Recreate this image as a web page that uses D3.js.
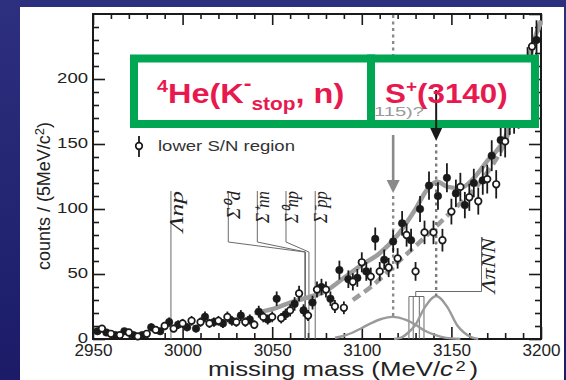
<!DOCTYPE html>
<html><head><meta charset="utf-8">
<script src="https://cdn.jsdelivr.net/npm/d3@7"></script>
<style>html,body{margin:0;padding:0;background:#1f206f;} svg{display:block}</style>
</head><body>
<svg id="chart" width="566" height="380"></svg>
<script>
// Higher S/N sample (filled circles): bin centre (MeV/c^2) and counts per 5 MeV/c^2
const filledMass = [2952.5,2957.5,2962.5,2967.5,2972.5,2977.5,2982.5,2987.5,2992.5,2997.5,
  3002.5,3007.5,3012.5,3017.5,3022.5,3027.5,3032.5,3037.5,3042.5,3047.5,
  3052.5,3057.5,3062.5,3067.5,3072.5,3077.5,3082.5,3087.5,3092.5,3097.5,
  3102.5,3107.5,3112.5,3117.5,3122.5,3127.5,3132.5,3137.5,3142.5,3147.5,
  3152.5,3157.5,3162.5,3167.5,3172.5,3177.5,3182.5,3187.5,3192.5,3197.5];
const filledCounts = [6,5,3,6,3,3,9,6,13,11,
  9,8,17,13,12,14,18,15,21,15,
  31,19,27,22,28,40,31,53,46,47,
  52,77,61,75,89,76,100,118,110,124,
  112,103,120,122,141,153,170,175,210,230];

// Lower S/N region (open circles)
const openMass = [2955,2960,2965,2970,2975,2980,2985,2990,2995,3000,
  3005,3010,3015,3020,3025,3030,3035,3040,3045,3050,
  3055,3060,3065,3070,3075,3080,3085,3090,3095,3100,
  3105,3110,3115,3120,3125,3130,3135,3140,3145,3150,
  3155,3160,3165,3170,3175,3180,3185,3190,3195];
const openCounts = [8,4,3,5,2,4,7,10,8,12,
  14,13,12,14,17,13,13,11,17,17,
  16,22,35,18,38,38,25,24,44,59,
  48,52,55,62,80,52,82,82,76,98,
  117,109,106,123,119,152,171,200,225];

// Fitted spectra (thick grey): solid for the filled set, dashed for the open set
const fitSolidMass   = [3040,3050,3060,3070,3080,3090,3100,3110,3120,3130,3137,3142,3148,3155,3162,3170,3180,3188,3195,3200];
const fitSolidCounts = [20,23,28,32,37,47,57,66,80,100,116,121,117,116,123,137,155,189,225,245];
const fitDashMass    = [3095,3105,3120,3135,3150,3160,3170,3180,3188,3195,3200];
const fitDashCounts  = [30,40,59,78,98,111,128,152,185,222,245];

// Peak components near the bottom
const peakAMass   = [3085,3090,3095,3100,3105,3110,3117,3125,3130,3135,3140,3145,3150,3155];
const peakACounts = [1,2.5,5,8.5,12,15,17,14.5,11,6.5,3.5,1.5,0.5,0];
const peakBMass   = [3118,3122,3126,3130,3135,3141.5,3148,3153,3157,3161,3165];
const peakBCounts = [0,1,5,11,24,33,24,11,5,1.5,0];

// Arrow positions for the two candidate states
const stateMass = [3117.5, 3141.5];

// Thresholds and their labels
const thrNames = ["Λnp","Σ⁰d","Σ⁺nn","Σ⁰np","Σ⁻pp"];
const thrMass  = [2993.5,3068.2,3068.6,3070.5,3074.0];
const thrLabelMass = [2993.5,3025.5,3041.7,3057.7,3074.0];
const lpnnMass = [3126.3,3128.7,3132.1,3134.7];

const xTickLabels = [2950,3000,3050,3100,3150,3200];
const yTickLabels = [0,50,100,150,200];
const xMinor = [2960,2970,2980,2990,3010,3020,3030,3040,3060,3070,3080,3090,3110,3120,3130,3140,3160,3170,3180,3190];
const yMinor = [10,20,30,40,60,70,80,90,110,120,130,140,160,170,180,190,210,220,230,240];

const svg = d3.select("#chart");
const W = 566, H = 380;
const x = d3.scaleLinear().domain([2950,3200]).range([93,541]);
const y = d3.scaleLinear().domain([0,250]).range([339,14]);

// slide background
const defs = svg.append("defs");
const g0 = defs.append("linearGradient").attr("id","bg").attr("x1",0).attr("y1",0).attr("x2",0).attr("y2",1);
g0.append("stop").attr("offset","0%").attr("stop-color","#2d307f");
g0.append("stop").attr("offset","100%").attr("stop-color","#1b1b68");
svg.append("rect").attr("width",W).attr("height",H).attr("fill","url(#bg)");
svg.append("rect").attr("x",20).attr("y",7).attr("width",544).attr("height",373).attr("fill","#fff");

const ink = "#1a1a1a";

// axes: ticks drawn inward on all four sides
function styleAxis(g){ g.select(".domain").remove(); g.selectAll("line").attr("stroke",ink).attr("stroke-width",1.6); }
svg.append("g").attr("transform","translate(0,339)")
  .call(d3.axisBottom(x).tickValues(xTickLabels).tickSize(-12).tickPadding(6).tickFormat(d3.format("d")))
  .call(styleAxis)
  .call(g=>g.selectAll("text").attr("font-family","Liberation Sans, Arial, sans-serif").attr("font-size",16).attr("fill","#222")
     .attr("textLength",38).attr("lengthAdjust","spacingAndGlyphs"));
svg.append("g").attr("transform","translate(0,339)")
  .call(d3.axisBottom(x).tickValues(xMinor).tickSize(-6).tickFormat("")).call(styleAxis);
svg.append("g").attr("transform","translate(0,14)")
  .call(d3.axisTop(x).tickValues(xTickLabels).tickSize(-11).tickFormat("")).call(styleAxis);
svg.append("g").attr("transform","translate(0,14)")
  .call(d3.axisTop(x).tickValues(xMinor).tickSize(-5).tickFormat("")).call(styleAxis);
svg.append("g").attr("transform","translate(93,0)")
  .call(d3.axisLeft(y).tickValues(yTickLabels).tickSize(-12).tickPadding(5).tickFormat(d3.format("d")))
  .call(styleAxis)
  .call(g=>g.selectAll("text").attr("font-family","Liberation Sans, Arial, sans-serif").attr("font-size",14).attr("fill","#222")
     .attr("dy","0.28em")
     .attr("textLength",d=>String(d).length*10.3).attr("lengthAdjust","spacingAndGlyphs"));
svg.append("g").attr("transform","translate(93,0)")
  .call(d3.axisLeft(y).tickValues(yMinor).tickSize(-6).tickFormat("")).call(styleAxis);
svg.append("g").attr("transform","translate(541,0)")
  .call(d3.axisRight(y).tickValues(yTickLabels.concat([250])).tickSize(-12).tickFormat("")).call(styleAxis);
svg.append("g").attr("transform","translate(541,0)")
  .call(d3.axisRight(y).tickValues(yMinor).tickSize(-6).tickFormat("")).call(styleAxis);

// frame
svg.append("rect").attr("x",x(2950)).attr("y",y(250)).attr("width",x(3200)-x(2950)).attr("height",y(0)-y(250))
  .attr("fill","none").attr("stroke",ink).attr("stroke-width",2);

// axis titles
const xt = svg.append("text").attr("x",208).attr("y",375.5)
  .attr("font-family","Liberation Sans, Arial, sans-serif").attr("font-size",21).attr("fill","#222")
  .attr("textLength",270).attr("lengthAdjust","spacingAndGlyphs");
xt.append("tspan").text("missing mass (MeV/");
xt.append("tspan").attr("font-style","italic").text("c");
xt.append("tspan").attr("font-size",15).attr("dy",-5).attr("dx",2).text("2");
xt.append("tspan").attr("dy",5).attr("dx",3).text(")");

const yt = svg.append("text").attr("transform","translate(50,196) rotate(-90)").attr("text-anchor","middle")
  .attr("font-family","Liberation Sans, Arial, sans-serif").attr("font-size",18).attr("fill","#222")
  .attr("textLength",148).attr("lengthAdjust","spacingAndGlyphs");
yt.append("tspan").text("counts / (5MeV/c");
yt.append("tspan").attr("font-size",13).attr("dy",-6).text("2");
yt.append("tspan").attr("dy",6).text(")");

// threshold markers
const thrG = svg.append("g").attr("stroke","#6a6a6a").attr("stroke-width",1).attr("fill","none");
thrMass.forEach((m,i)=>{
  const lx = x(thrLabelMass[i]), tx = x(m);
  const pts = Math.abs(lx-tx) < 0.5 ? [[tx,191],[tx,y(0)]] : [[lx,191],[lx,242],[tx,252],[tx,y(0)]];
  thrG.append("path").attr("d",d3.line()(pts));
});
thrNames.forEach((s,i)=>{
  const lx = x(thrLabelMass[i]);
  const t = svg.append("text").attr("transform",`translate(${lx+12},191) rotate(-90)`).attr("text-anchor","end")
    .attr("font-family","Liberation Serif, Times New Roman, serif").attr("font-style","italic").attr("font-size",19).attr("fill","#222");
  t.text(s);
  t.attr("textLength", s.length>=4 ? 32 : (i===0 ? 41 : 28)).attr("lengthAdjust","spacingAndGlyphs");
});
// Lambda-pi-N-N group
const lx0 = x(lpnnMass[0]), lx1 = x(lpnnMass[lpnnMass.length-1]);
lpnnMass.forEach(m=>thrG.append("line").attr("x1",x(m)).attr("x2",x(m)).attr("y1",296.5).attr("y2",y(0)));
thrG.append("path").attr("d",d3.line()([[lx0,296.5],[lx1,296.5]]));
const mid = x(lpnnMass[1])+2.5;
thrG.append("path").attr("d",d3.line()([[mid,296.5],[mid,291.5],[481.5,291.5],[481.5,237]]));
svg.append("text").attr("transform","translate(495,238) rotate(-90)").attr("text-anchor","end")
  .attr("font-family","Liberation Serif, Times New Roman, serif").attr("font-style","italic").attr("font-size",19).attr("fill","#222")
  .attr("textLength",55).attr("lengthAdjust","spacingAndGlyphs").text("ΛπNN");

// peak components
const line = d3.line().x(d=>x(d[0])).y(d=>y(d[1])).curve(d3.curveMonotoneX);
svg.append("path").attr("d",line(d3.zip(peakAMass,peakACounts))).attr("fill","none").attr("stroke","#9a9a9a").attr("stroke-width",2.4);
svg.append("path").attr("d",line(d3.zip(peakBMass,peakBCounts))).attr("fill","none").attr("stroke","#9a9a9a").attr("stroke-width",2.4);

// fitted spectra
svg.append("path").attr("d",line(d3.zip(fitSolidMass,fitSolidCounts))).attr("fill","none").attr("stroke","#9d9d9d").attr("stroke-width",4.5);
svg.append("path").attr("d",line(d3.zip(fitDashMass,fitDashCounts))).attr("fill","none").attr("stroke","#9d9d9d").attr("stroke-width",4.5)
  .attr("stroke-dasharray","9,5");

// dotted guides from the arrows down to the peak tops
const peakATop = d3.max(peakACounts), peakBTop = d3.max(peakBCounts);
svg.append("line").attr("x1",x(stateMass[0])).attr("x2",x(stateMass[0])).attr("y1",y(250)+1).attr("y2",55)
  .attr("stroke","#8a8a8a").attr("stroke-width",2.4).attr("stroke-dasharray","3,3.5");
svg.append("line").attr("x1",x(stateMass[0])).attr("x2",x(stateMass[0])).attr("y1",196).attr("y2",y(peakATop))
  .attr("stroke","#8a8a8a").attr("stroke-width",2.4).attr("stroke-dasharray","3,3.5");
svg.append("line").attr("x1",x(stateMass[1])).attr("x2",x(stateMass[1])).attr("y1",144).attr("y2",y(peakBTop))
  .attr("stroke","#7a7a7a").attr("stroke-width",2.4).attr("stroke-dasharray","3,3.5");

// data points with statistical error bars
function drawSet(mass, counts, open){
  const g = svg.append("g");
  mass.forEach((m,i)=>{
    const c = counts[i], e = Math.sqrt(c);
    g.append("line").attr("x1",x(m)).attr("x2",x(m)).attr("y1",y(c+e)).attr("y2",y(Math.max(c-e,0)))
      .attr("stroke",ink).attr("stroke-width",1.8);
  });
  mass.forEach((m,i)=>{
    g.append("circle").attr("cx",x(m)).attr("cy",y(counts[i])).attr("r",open?3.3:3.8)
      .attr("fill",open?"#fff":ink).attr("stroke",ink).attr("stroke-width",open?1.7:0.5);
  });
}
drawSet(filledMass, filledCounts, false);
drawSet(openMass, openCounts, true);

// legend
svg.append("line").attr("x1",139).attr("x2",139).attr("y1",136).attr("y2",157).attr("stroke",ink).attr("stroke-width",1.8);
svg.append("circle").attr("cx",139).attr("cy",146).attr("r",3.3).attr("fill","#fff").attr("stroke",ink).attr("stroke-width",1.7);
svg.append("text").attr("x",158).attr("y",151).attr("font-family","Liberation Sans, Arial, sans-serif").attr("font-size",14)
  .attr("fill","#333").attr("textLength",137).attr("lengthAdjust","spacingAndGlyphs").text("lower S/N region");

// arrows
const ax0 = x(stateMass[0]), ax1 = x(stateMass[1]);
svg.append("line").attr("x1",ax0).attr("x2",ax0).attr("y1",135).attr("y2",182).attr("stroke","#8a8a8a").attr("stroke-width",2.6);
svg.append("path").attr("d",`M${ax0-6.5},180L${ax0+6.5},180L${ax0},193Z`).attr("fill","#8a8a8a");

// slide annotation boxes
const green = "#00a651", crimson = "#e8194f";
svg.append("rect").attr("x",134).attr("y",58.5).attr("width",237).attr("height",65.5).attr("fill","#fff").attr("stroke",green).attr("stroke-width",8);
svg.append("rect").attr("x",371).attr("y",58.5).attr("width",164).attr("height",65.5).attr("fill","#fff").attr("stroke",green).attr("stroke-width",8);
svg.append("text").attr("x",374).attr("y",115.5).attr("font-family","Liberation Sans, Arial, sans-serif").attr("font-size",12)
  .attr("fill","#999").attr("textLength",50).attr("lengthAdjust","spacingAndGlyphs").text("115)?");

svg.append("line").attr("x1",ax1).attr("x2",ax1).attr("y1",90).attr("y2",130).attr("stroke",ink).attr("stroke-width",2);
svg.append("path").attr("d",`M${ax1-6},128L${ax1+6},128L${ax1},141Z`).attr("fill",ink);

const t1 = svg.append("text").attr("x",157).attr("y",103).attr("transform","matrix(1.16,0,0,1,-25.1,0)")
  .attr("font-family","Liberation Sans, Arial, sans-serif").attr("font-weight","bold").attr("font-size",28).attr("fill",crimson);
t1.append("tspan").attr("font-size",17).attr("dy",-11).text("4");
t1.append("tspan").attr("dy",11).text("He(K");
t1.append("tspan").attr("font-size",20).attr("dy",-13).text("-");
t1.append("tspan").attr("font-size",18).attr("dy",20).text("stop");
t1.append("tspan").attr("dy",-7).text(", n)");

const t2 = svg.append("text").attr("x",385).attr("y",103).attr("transform","matrix(1.12,0,0,1,-46.2,0)")
  .attr("font-family","Liberation Sans, Arial, sans-serif").attr("font-weight","bold").attr("font-size",28).attr("fill",crimson);
t2.append("tspan").text("S");
t2.append("tspan").attr("font-size",17).attr("dy",-11).text("+");
t2.append("tspan").attr("dy",11).text("(3140)");
</script>
</body></html>
